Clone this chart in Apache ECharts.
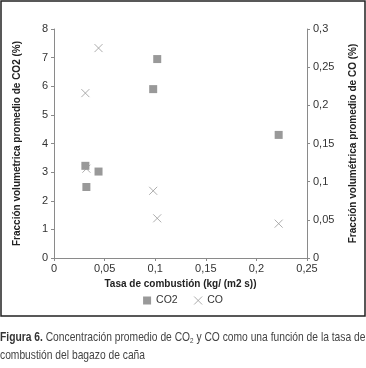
<!DOCTYPE html>
<html>
<head>
<meta charset="utf-8">
<script src="https://cdn.jsdelivr.net/npm/echarts@6/dist/echarts.min.js"></script>
<style>
  html, body { margin: 0; padding: 0; background: #fff; }
  #chart { width: 366px; height: 368px; }
</style>
</head>
<body>
<div id="chart"></div>
<script>
// valores
var tasaCO2 = [0.031, 0.044, 0.032, 0.102, 0.098, 0.222]
var co2 = [3.22, 3.02, 2.48, 6.95, 5.9, 4.3]
var tasaCO = [0.044, 0.031, 0.032, 0.098, 0.102, 0.222]
var co = [0.275, 0.216, 0.117, 0.088, 0.052, 0.045]

var fontN = '"Liberation Sans", Arial, sans-serif'
var cross = 'path://M0,0L10,10M10,0L0,10'

function pares(xs, ys) {
  var out = []
  for (let i = 0; i < xs.length; i++) out.push([xs[i], ys[i]])
  return out
}
function coma(v) { return String(Math.round(v * 1000) / 1000).replace('.', ',') }

var myChart = echarts.init(document.getElementById('chart'))
var axisLine = { lineStyle: { color: '#8a8a8a', width: 1 } }
var axisTick = { show: true, length: 3, lineStyle: { color: '#8a8a8a' } }
var axisLabel = { color: '#333', fontSize: 11, fontFamily: fontN }
var nameStyle = { color: '#222', fontSize: 10, fontWeight: 'bold', fontFamily: fontN }

var option = {
  animation: false,
  grid: { left: 54, right: 52, top: 29, bottom: 110 },
  legend: {
    bottom: 56,
    left: 'center',
    itemWidth: 8,
    itemHeight: 8,
    itemGap: 14,
    textStyle: { color: '#333', fontSize: 10.5, fontFamily: fontN },
    data: [
      { name: 'CO2', icon: 'rect' },
      { name: 'CO', icon: cross, itemStyle: { color: 'none', borderColor: '#999', borderWidth: 1 } }
    ]
  },
  xAxis: {
    type: 'value', min: 0, max: 0.25, interval: 0.05,
    name: 'Tasa de combustión (kg/ (m2 s))',
    nameLocation: 'middle', nameGap: 14, nameTextStyle: nameStyle,
    axisLine: axisLine, axisTick: axisTick, splitLine: { show: false },
    axisLabel: Object.assign({ margin: 5, formatter: function (v) { return coma(v) } }, axisLabel)
  },
  yAxis: [
    {
      type: 'value', min: 0, max: 8, interval: 1,
      name: 'Fracción volumetrica promedio de CO2 (%)',
      nameLocation: 'middle', nameGap: 32, nameRotate: 90, nameTextStyle: nameStyle,
      axisLine: Object.assign({ show: true }, axisLine), axisTick: axisTick, splitLine: { show: false },
      axisLabel: Object.assign({ margin: 6 }, axisLabel)
    },
    {
      type: 'value', min: 0, max: 0.3, interval: 0.05, position: 'right',
      name: 'Fracción volumétrica promedio de CO (%)',
      nameLocation: 'middle', nameGap: 41, nameRotate: 90, nameTextStyle: nameStyle,
      axisLine: Object.assign({ show: true }, axisLine), axisTick: axisTick, splitLine: { show: false },
      axisLabel: Object.assign({ margin: 6, formatter: function (v) { return coma(v) } }, axisLabel)
    }
  ],
  series: [
    {
      name: 'CO2', type: 'scatter', yAxisIndex: 0,
      symbol: 'rect', symbolSize: 8,
      itemStyle: { color: '#7f7f7f' },
      data: pares(tasaCO2, co2)
    },
    {
      name: 'CO', type: 'scatter', yAxisIndex: 1,
      symbol: cross, symbolSize: 8,
      itemStyle: { color: 'none', borderColor: '#999', borderWidth: 1 },
      data: pares(tasaCO, co)
    }
  ],
  graphic: [
    {
      type: 'rect', silent: true,
      shape: { x: 1, y: 1, width: 364, height: 315 },
      style: { fill: 'none', stroke: '#222', lineWidth: 1.5 }
    },
    {
      type: 'text', x: 0, y: 328, scaleX: 0.79, scaleY: 1,
      style: {
        text: '{b|Figura 6.} Concentración promedio de CO{s|2} y CO como una función de la tasa de\ncombustión del bagazo de caña',
        fill: '#444', fontSize: 13, fontFamily: fontN, lineHeight: 18,
        rich: {
          b: { fontWeight: 'bold', fill: '#333', fontSize: 13, fontFamily: fontN },
          s: { fontSize: 8, fontFamily: fontN, fill: '#444', padding: [7, 0, 0, 0] }
        }
      }
    }
  ]
}

myChart.setOption(option, true)
</script>
</body>
</html>
